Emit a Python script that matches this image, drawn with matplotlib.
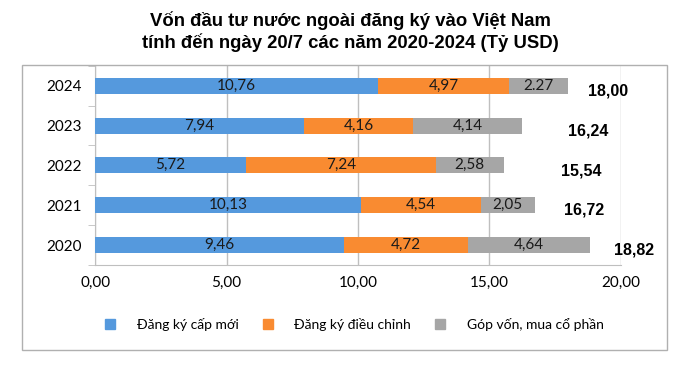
import matplotlib.pyplot as plt
from matplotlib.patches import Rectangle
from matplotlib.lines import Line2D
import numpy as np

years = ['2020', '2021', '2022', '2023', '2024']
cap_moi = [9.46, 10.13, 5.72, 7.94, 10.76]
dieu_chinh = [4.72, 4.54, 7.24, 4.16, 4.97]
gop_von = [4.64, 2.05, 2.58, 4.14, 2.27]
gop_von_labels = ['4,64', '2,05', '2,58', '4,14', '2.27']
totals = [18.82, 16.72, 15.54, 16.24, 18.00]
series_names = ['Đăng ký cấp mới', 'Đăng ký điều chỉnh', 'Góp vốn, mua cổ phần']

colors = ['#5599dd', '#f98b31', '#a6a6a6']
# the total labels in the source sit at uneven gaps after the bar end
total_gap = [0.9, 1.1, 2.2, 1.75, 0.75]

plt.rcParams['font.family'] = ['Lato', 'DejaVu Sans']

fig = plt.figure(figsize=(7, 3.7), dpi=100)
ax = fig.add_axes([0.136, 0.284, 0.751, 0.538])

y = np.arange(len(years))
left = np.zeros(len(years))
for vals, col in zip([cap_moi, dieu_chinh, gop_von], colors):
    ax.barh(y, vals, left=left, height=0.4, color=col, zorder=3)
    left = left + np.array(vals)


def fmt(v):
    return ('%.2f' % v).replace('.', ',')


for i in range(len(years)):
    ax.text(cap_moi[i] / 2, y[i], fmt(cap_moi[i]), ha='center', va='center',
            fontsize=11, color='#1a1a1a', zorder=4)
    ax.text(cap_moi[i] + dieu_chinh[i] / 2, y[i], fmt(dieu_chinh[i]),
            ha='center', va='center', fontsize=11, color='#1a1a1a', zorder=4)
    ax.text(cap_moi[i] + dieu_chinh[i] + gop_von[i] / 2, y[i], gop_von_labels[i],
            ha='center', va='center', fontsize=11, color='#1a1a1a', zorder=4)
    ax.text(totals[i] + total_gap[i], y[i] - 0.13, fmt(totals[i]),
            ha='left', va='center', fontsize=11.5, fontweight='bold',
            color='black', zorder=4, family=['Liberation Sans', 'DejaVu Sans'])

ax.set_xlim(0, 20)
ax.set_ylim(-0.5, len(years) - 0.5)
ax.set_xticks(np.arange(0, 21, 5))
ax.set_xticklabels([fmt(v) for v in np.arange(0, 21, 5)], fontsize=11)
ax.set_yticks(y)
ax.set_yticklabels(years, fontsize=11)
ax.set_yticks(np.arange(-0.5, len(years), 1), minor=True)
ax.tick_params(axis='y', which='major', length=0, pad=10)
ax.tick_params(axis='y', which='minor', length=5, color='#bfbfbf')
ax.tick_params(axis='x', length=0, pad=8)
ax.grid(axis='x', color='#bfbfbf', linewidth=1, zorder=0)
for s in ['top', 'right']:
    ax.spines[s].set_visible(False)
for s in ['left', 'bottom']:
    ax.spines[s].set_color('#bfbfbf')

# outer chart frame
fig.patches.append(Rectangle((0.031, 0.054), 0.922, 0.770, transform=fig.transFigure,
                             fill=False, edgecolor='#b0b0b0', linewidth=1))

title_font = ['Liberation Sans', 'DejaVu Sans']
fig.text(0.5, 0.945, 'Vốn đầu tư nước ngoài đăng ký vào Việt Nam',
         ha='center', va='center', fontsize=13.3, fontweight='bold',
         family=title_font)
fig.text(0.5, 0.885, 'tính đến ngày 20/7 các năm 2020-2024 (Tỷ USD)',
         ha='center', va='center', fontsize=13.3, fontweight='bold',
         family=title_font)

handles = [Line2D([], [], marker='s', linestyle='none', markersize=6.5,
                  markerfacecolor=c, markeredgecolor=c) for c in colors]
fig.legend(handles, series_names, loc='center', bbox_to_anchor=(0.5, 0.122),
           ncol=3, frameon=False, fontsize=10, handletextpad=0.9,
           columnspacing=1.1)

fig.savefig('out.png', dpi=100)
